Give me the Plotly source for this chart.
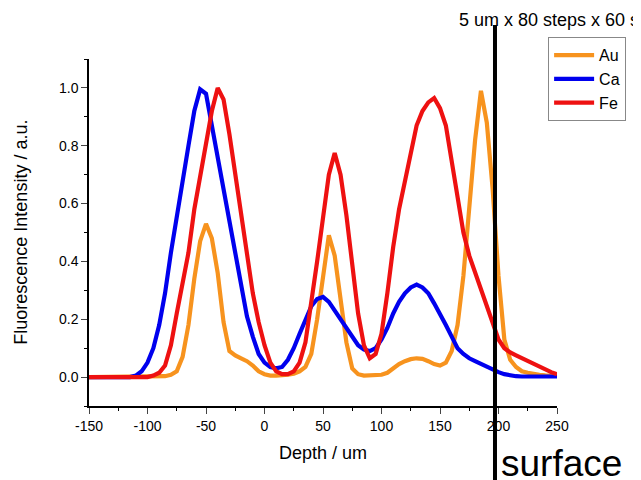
import plotly.graph_objects as go

depth = list(range(-150, 255, 5))

au = [0, 0, 0, 0, 0, 0, 0, 0, 0, 0, 0, 0, 0, 0.003, 0.008, 0.02,
      0.07, 0.18, 0.34, 0.47, 0.53, 0.48, 0.36, 0.19, 0.09, 0.075,
      0.065, 0.055, 0.04, 0.02, 0.01, 0.005, 0.005, 0.005, 0.008, 0.012,
      0.02, 0.035, 0.08, 0.20, 0.34, 0.49, 0.42, 0.28, 0.12, 0.03,
      0.01, 0.005, 0.005, 0.005, 0.008, 0.015, 0.03, 0.045, 0.055, 0.062,
      0.065, 0.063, 0.055, 0.045, 0.04, 0.05, 0.09, 0.18, 0.35, 0.58,
      0.82, 0.99, 0.88, 0.65, 0.35, 0.13, 0.06, 0.035, 0.02, 0.015,
      0.01, 0.008, 0.006, 0.005, 0.005]

ca = [0, 0, 0, 0, 0, 0, 0, 0, 0.005, 0.02, 0.05, 0.10, 0.18, 0.29, 0.43,
      0.56, 0.69, 0.80, 0.92, 0.995, 0.98, 0.87, 0.75, 0.65, 0.55,
      0.43, 0.32, 0.21, 0.14, 0.08, 0.05, 0.035, 0.03, 0.035, 0.06,
      0.10, 0.15, 0.20, 0.245, 0.27, 0.277, 0.26, 0.23, 0.20, 0.165,
      0.135, 0.11, 0.095, 0.09, 0.10, 0.13, 0.17, 0.22, 0.26, 0.29,
      0.31, 0.32, 0.31, 0.29, 0.255, 0.22, 0.18, 0.14, 0.10, 0.08,
      0.065, 0.055, 0.045, 0.035, 0.025, 0.017, 0.01, 0.006, 0.003, 0.002,
      0.002, 0.002, 0.002, 0.002, 0.002, 0.002]

fe = [0, 0, 0, 0, 0, 0, 0, 0, 0, 0, 0, 0.005, 0.015, 0.04, 0.11, 0.22,
      0.33, 0.43, 0.58, 0.70, 0.82, 0.92, 1.0, 0.96, 0.84, 0.70,
      0.55, 0.41, 0.29, 0.19, 0.11, 0.05, 0.02, 0.01, 0.01, 0.02,
      0.05, 0.12, 0.25, 0.40, 0.55, 0.70, 0.775, 0.70, 0.56, 0.38,
      0.22, 0.11, 0.065, 0.08, 0.15, 0.29, 0.45, 0.58, 0.68, 0.78,
      0.87, 0.92, 0.95, 0.965, 0.93, 0.87, 0.74, 0.62, 0.50, 0.42,
      0.36, 0.30, 0.24, 0.19, 0.13, 0.10, 0.085, 0.075, 0.065, 0.055,
      0.045, 0.035, 0.025, 0.017, 0.01]

series_names = ["Au", "Ca", "Fe"]
series_values = [au, ca, fe]
series_colors = ["#F7931E", "#0000EE", "#EE1111"]

x_ticks = [-150, -100, -50, 0, 50, 100, 150, 200, 250]
x_tick_labels = ["-150", "-100", "-50", "0", "50", "100", "150", "200", "250"]
y_ticks = [0.0, 0.2, 0.4, 0.6, 0.8, 1.0]
y_tick_labels = ["0.0", "0.2", "0.4", "0.6", "0.8", "1.0"]
surface_depth = 197

fig = go.Figure()
for name, vals, col in zip(series_names, series_values, series_colors):
    fig.add_trace(go.Scatter(x=depth, y=vals, mode="lines", name=name,
                             line=dict(color=col, width=4.2)))

fig.add_shape(type="line", xref="x", yref="paper",
              x0=surface_depth, x1=surface_depth, y0=-0.3, y1=1.098,
              line=dict(color="black", width=4))

fig.add_annotation(text="5 um x 80 steps x 60 s", xref="paper", yref="paper",
                   x=1.18, y=1.112, xanchor="right", yanchor="middle",
                   showarrow=False, font=dict(size=18, color="black"))
fig.add_annotation(text="surface", xref="paper", yref="paper",
                   x=0.875, y=-0.166, xanchor="left", yanchor="middle",
                   showarrow=False, font=dict(size=37, color="black"))
fig.add_annotation(text="Depth / um", xref="paper", yref="paper",
                   x=0.5, y=-0.135, xanchor="center", yanchor="middle",
                   showarrow=False, font=dict(size=18, color="black"))
fig.add_annotation(text="Fluorescence Intensity / a.u.", xref="paper", yref="paper",
                   x=-0.147, y=0.5, xanchor="center", yanchor="middle",
                   textangle=-90, showarrow=False, font=dict(size=18, color="black"))

fig.update_layout(
    width=641, height=480,
    margin=dict(l=81, r=92, t=51, b=82),
    paper_bgcolor="white", plot_bgcolor="white",
    font=dict(family="Liberation Sans, Arial", color="black", size=14),
    legend=dict(x=0.981, y=1.063, xanchor="left", yanchor="top",
                bordercolor="#888888", borderwidth=1, bgcolor="white",
                font=dict(size=16), tracegroupgap=0, itemwidth=40),
    showlegend=True,
)
fig.update_xaxes(range=[-150, 250], tickvals=x_ticks, ticktext=x_tick_labels,
                 ticks="outside", ticklen=6, tickwidth=1.2, showline=True,
                 linecolor="black", linewidth=1.5, showgrid=False, zeroline=False,
                 minor=dict(dtick=25, ticks="outside", ticklen=3, tickcolor="black"))
fig.update_yaxes(range=[-0.1, 1.1], tickvals=y_ticks, ticktext=y_tick_labels,
                 ticks="outside", ticklen=6, tickwidth=1.2, showline=True,
                 linecolor="black", linewidth=1.5, showgrid=False, zeroline=False,
                 minor=dict(dtick=0.1, ticks="outside", ticklen=3, tickcolor="black"))

fig.write_html("out.html")
